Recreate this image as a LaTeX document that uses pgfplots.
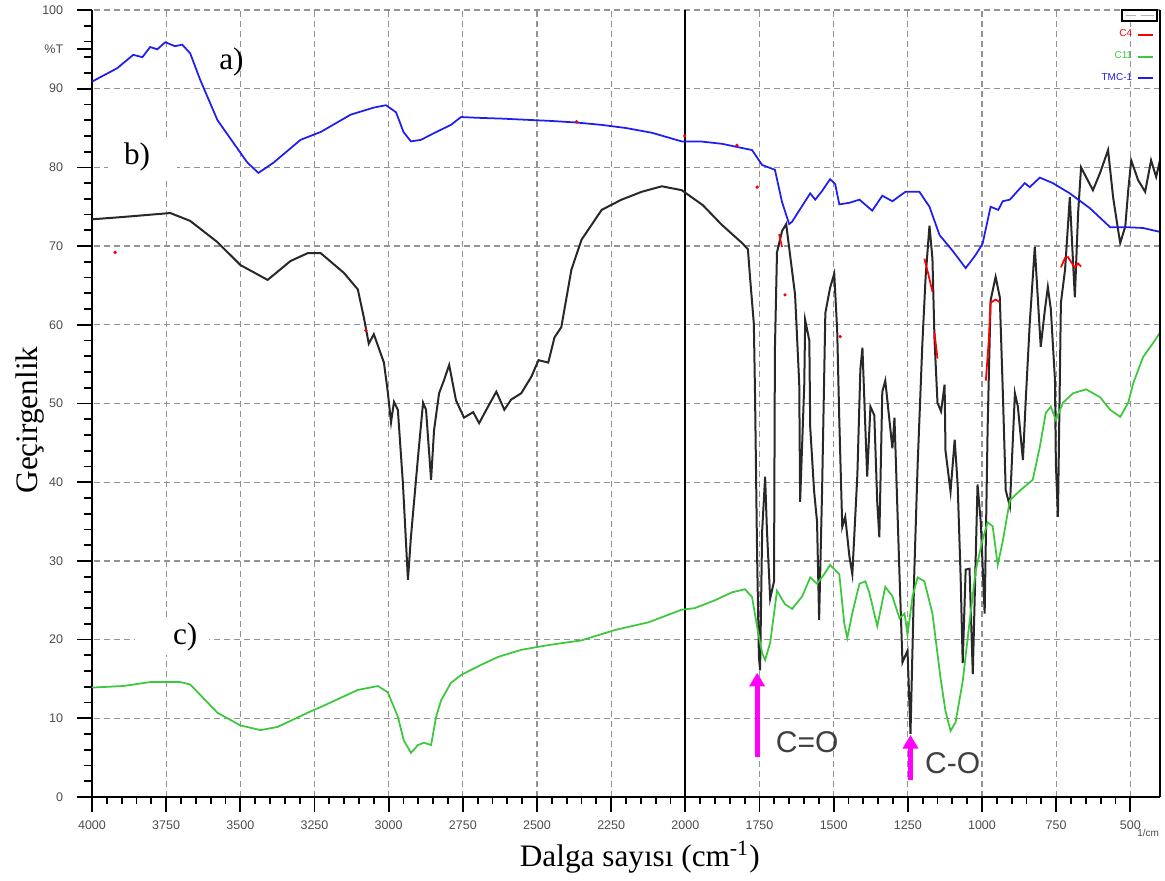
\documentclass[border=0pt]{standalone}
\usepackage{pgfplots}
\pgfplotsset{compat=1.18}
\usepackage{pgfplotstable}
\usepackage{fontspec}
\setmainfont{Liberation Serif}
\setsansfont{Liberation Sans}
\usetikzlibrary{arrows.meta}

\definecolor{bluec}{RGB}{30,30,240}
\definecolor{lgreen}{RGB}{60,200,60}
\definecolor{darkc}{RGB}{40,40,40}
\definecolor{magc}{RGB}{255,0,255}

% TMC-1 (a)
\pgfplotstableread{
x y
4000 90.9
3915 92.6
3861 94.3
3830 94.0
3804 95.3
3780 95.0
3753 95.9
3720 95.4
3696 95.6
3669 94.5
3635 91.1
3577 86.0
3523 83.1
3476 80.6
3439 79.3
3388 80.6
3297 83.5
3229 84.5
3128 86.7
3050 87.6
3009 87.9
2975 87.0
2950 84.5
2925 83.3
2891 83.5
2850 84.3
2790 85.4
2756 86.4
2700 86.3
2621 86.2
2452 85.9
2367 85.7
2282 85.4
2200 85.0
2113 84.4
2012 83.3
1950 83.3
1877 83.0
1826 82.6
1775 82.2
1741 80.3
1698 79.7
1674 75.6
1650 72.8
1640 73.1
1613 74.7
1579 76.7
1562 75.9
1539 77.0
1512 78.5
1495 77.9
1481 75.3
1447 75.5
1413 75.9
1376 74.7
1370 74.5
1336 76.4
1302 75.7
1258 76.9
1211 76.9
1177 75.0
1143 71.4
1099 69.4
1055 67.2
1021 68.9
998 70.3
971 75.0
945 74.6
930 75.7
906 75.9
856 78.0
839 77.5
805 78.7
761 78.0
704 76.7
636 74.8
568 72.4
514 72.4
457 72.3
400 71.8
}\tmcdata

% C4 (b)
\pgfplotstableread{
x y
4000 73.4
3895 73.7
3736 74.2
3669 73.2
3577 70.5
3500 67.6
3408 65.7
3331 68.1
3273 69.1
3229 69.1
3151 66.6
3104 64.5
3084 61.0
3067 57.6
3050 58.8
3016 55.2
3003 51.5
2992 47.6
2982 50.2
2969 49.2
2952 39.9
2935 27.6
2925 33.0
2901 43.2
2884 50.1
2874 49.2
2857 40.3
2847 46.6
2830 51.3
2813 53.0
2796 54.9
2773 50.4
2746 48.2
2715 48.9
2695 47.5
2665 49.6
2637 51.5
2610 49.2
2587 50.5
2553 51.3
2519 53.4
2495 55.5
2462 55.2
2441 58.4
2418 59.7
2384 67.0
2350 70.8
2282 74.6
2215 75.9
2147 76.9
2079 77.6
2012 77.1
1941 75.2
1877 72.7
1809 70.4
1789 69.6
1782 66.1
1769 60.1
1765 51.1
1758 30.6
1752 17.9
1748 16.1
1741 33.8
1731 40.7
1725 34.0
1714 25.2
1701 27.4
1698 56.9
1691 69.2
1674 71.9
1660 72.8
1630 63.8
1616 52.5
1613 37.5
1599 52.5
1596 60.6
1582 58.0
1579 47.0
1566 38.9
1556 35.0
1549 22.5
1539 38.9
1528 61.5
1512 64.7
1498 66.5
1488 59.2
1481 47.9
1471 34.3
1461 35.6
1447 30.6
1437 28.3
1420 41.0
1410 54.3
1403 57.1
1393 46.8
1387 40.7
1376 49.6
1363 48.5
1353 37.4
1346 33.0
1336 51.5
1326 52.9
1302 44.3
1295 48.2
1278 28.2
1268 17.1
1251 18.6
1241 8.0
1228 28.8
1217 42.1
1201 57.6
1190 66.1
1177 72.6
1167 68.4
1160 58.1
1150 50.1
1138 49.0
1126 52.4
1123 44.0
1106 38.8
1092 45.4
1082 39.7
1072 28.0
1065 17.0
1055 28.9
1042 29.0
1031 15.6
1015 39.7
1004 34.9
991 23.3
981 46.8
971 63.1
954 66.1
940 63.5
930 51.7
920 39.0
906 36.9
889 51.3
879 49.6
862 42.8
852 50.8
839 60.2
822 69.9
812 63.5
802 57.2
788 61.9
778 64.8
768 62.0
754 53.0
751 42.4
744 35.6
734 62.8
720 67.0
704 76.2
693 67.9
687 63.5
676 74.2
666 80.0
626 77.1
602 79.3
575 82.2
558 76.2
541 72.0
534 70.4
517 72.5
507 77.1
497 80.9
474 78.4
450 76.9
430 80.9
413 78.8
400 80.9
}\cfourdata

% C11 (c)
\pgfplotstableread{
x y
4000 13.9
3895 14.1
3804 14.6
3702 14.6
3669 14.3
3577 10.7
3500 9.1
3432 8.5
3375 8.9
3273 10.7
3219 11.6
3104 13.6
3036 14.1
3003 13.3
2969 10.2
2949 7.2
2925 5.6
2901 6.6
2881 6.9
2857 6.6
2840 10.2
2823 12.3
2790 14.5
2756 15.5
2688 16.8
2631 17.8
2553 18.7
2462 19.3
2350 19.9
2239 21.2
2124 22.2
2012 23.8
1968 24.0
1900 25.0
1843 26.0
1799 26.4
1775 25.4
1758 21.6
1741 18.3
1731 17.4
1714 19.6
1691 26.2
1664 24.5
1640 23.9
1606 25.5
1579 27.9
1556 27.1
1532 28.3
1512 29.5
1481 28.3
1464 22.0
1454 20.2
1437 23.4
1413 27.1
1393 27.4
1380 26.0
1353 21.7
1326 26.7
1302 25.5
1278 22.7
1261 23.3
1251 20.6
1234 25.5
1217 27.9
1194 27.4
1167 23.3
1140 15.2
1123 10.9
1106 8.4
1089 9.5
1065 14.7
1042 22.2
1021 28.8
998 32.7
981 34.9
964 34.4
947 29.5
930 32.5
906 37.7
870 39.0
829 40.3
805 44.5
785 48.8
768 49.6
751 47.9
727 50.1
693 51.3
649 51.8
602 50.8
568 49.2
534 48.3
507 50.1
490 52.6
457 55.9
423 57.7
400 59.0
}\celevendata

\begin{document}
\begin{tikzpicture}
\begin{axis}[
    scale only axis, width=427.2pt, height=314.8pt,
    x dir=reverse, xmin=400, xmax=4000, ymin=0, ymax=100,
    xtick={500,750,...,4000}, ytick={0,10,...,100},
    extra y ticks={95}, extra y tick labels={\%T},
    extra y tick style={grid=none},
    minor x tick num=4, minor y tick num=4,
    axis lines*=left,
    clip mode=individual,
    tick align=outside, major tick length=6pt, minor tick length=3pt,
    axis line style={black, line width=0.9pt},
    every tick/.style={black, line width=0.7pt},
    grid=major,
    major grid style={gray!85, line width=0.5pt, dash pattern=on 2.4pt off 1.6pt},
    ticklabel style={font=\sffamily\fontsize{5}{6}\selectfont, text=black!70},
    yticklabel style={xshift=-2pt},
    /pgf/number format/assume math mode=true,
    /pgf/number format/1000 sep={},
    xlabel={Dalga sayısı (cm\textsuperscript{-1})},
    ylabel={Geçirgenlik},
    label style={font=\fontsize{12.5}{14}\selectfont},
    xlabel style={at={(axis description cs:0.513,-0.077)}, anchor=center},
    ylabel style={at={(axis description cs:-0.058,0.479)}, anchor=center},
    legend style={at={(axis description cs:0.995,0.982)}, anchor=north east,
        draw=none, fill=none, font=\sffamily\fontsize{4}{4}\selectfont,
        inner sep=0pt, row sep=0.4pt},
    legend cell align=right, legend plot pos=right,
    legend image code/.code={\draw[#1, line width=0.8pt] (0pt,0pt) -- (6pt,0pt);},
]
\addlegendimage{red}\addlegendentry{\textcolor{red}{C4}}
\addlegendimage{lgreen}\addlegendentry{\textcolor{lgreen}{C11}}
\addlegendimage{bluec}\addlegendentry{\textcolor{bluec}{TMC-1}}

\coordinate (bl) at (axis description cs:0,0);
\coordinate (tr) at (axis description cs:1,1);

% white patches behind the panel letters
\fill[white] (axis description cs:0.015,0.787) rectangle (axis description cs:0.080,0.839);
\fill[white] (axis description cs:0.040,0.180) rectangle (axis description cs:0.110,0.225);

\addplot[black, line width=0.8pt, forget plot] coordinates {(2000,0) (2000,100)};
\addplot[darkc, line width=0.8pt, forget plot] table {\cfourdata};
\addplot[lgreen, line width=0.7pt, forget plot] table {\celevendata};
\addplot[bluec, line width=0.7pt, forget plot] table {\tmcdata};

% visible fragments of the C4 trace
\addplot[red, line width=0.7pt, forget plot] coordinates {(734,67.3) (720,68.5) (710,68.6) (700,68.0) (687,67.3) (676,67.8) (666,67.4)};
\addplot[red, line width=0.7pt, forget plot] coordinates {(987,52.9) (977,58.1) (971,62.8) (954,63.2) (940,62.9)};
\addplot[red, line width=0.7pt, forget plot] coordinates {(1194,68.4) (1180,66.3) (1167,64.2)};
\addplot[red, line width=0.7pt, forget plot] coordinates {(1160,59.0) (1150,55.7)};
\addplot[red, line width=0.7pt, forget plot] coordinates {(1684,71.5) (1674,69.9)};
\addplot[red, only marks, mark=*, mark size=0.45pt, forget plot] coordinates {
(1758,77.5) (1664,63.8) (1478,58.5) (2367,85.8) (3077,59.3) (3922,69.2) (2002,84.0) (1826,82.8)};

% right frame line and legend header box
\draw[black, line width=0.9pt] (axis description cs:1,0) -- (axis description cs:1,1);
\draw[black, line width=0.8pt, fill=white] (axis description cs:0.964,0.986) rectangle (axis description cs:0.997,1.0);
\draw[gray!60, line width=0.4pt] (axis description cs:0.982,0.993) -- (axis description cs:0.994,0.993);
\draw[gray!60, line width=0.4pt] (axis description cs:0.968,0.993) -- (axis description cs:0.978,0.993);

% arrows and band labels
\draw[magc, line width=2pt, -{Triangle[width=6pt,length=5.5pt]}] (axis cs:1758,5.1) -- (axis cs:1758,15.8);
\draw[magc, line width=2pt, -{Triangle[width=6pt,length=5.5pt]}] (axis cs:1241,2.2) -- (axis cs:1241,7.9);
\node[font=\sffamily\fontsize{12}{14}\selectfont, text=black!75] at (axis cs:1589,7.0) {C=O};
\node[font=\sffamily\fontsize{12}{14}\selectfont, text=black!75] at (axis cs:1099,4.3) {C-O};

\node[font=\fontsize{12.5}{14}\selectfont] at (axis cs:3530,93.4) {a)};
\node[font=\fontsize{12.5}{14}\selectfont] at (axis cs:3848,81.3) {b)};
\node[font=\fontsize{12.5}{14}\selectfont] at (axis cs:3686,20.3) {c)};

\node[font=\sffamily\fontsize{4}{4}\selectfont, text=black!70] at (axis description cs:0.989,-0.046) {1/cm};
\end{axis}
\pgfresetboundingbox
\path[use as bounding box] ([xshift=-36.8pt,yshift=-33.6pt]bl) rectangle ([xshift=2pt,yshift=4pt]tr);
\end{tikzpicture}
\end{document}
